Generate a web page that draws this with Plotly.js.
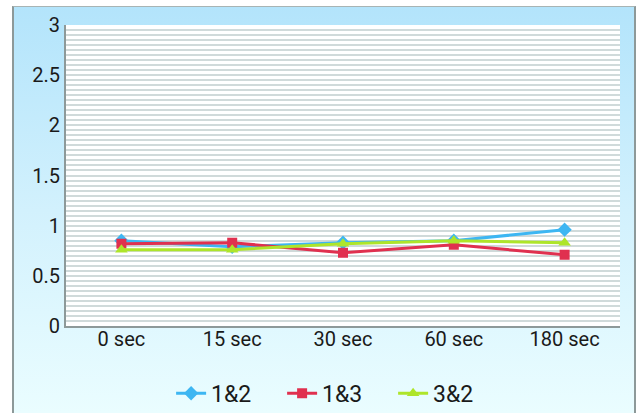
<!DOCTYPE html>
<html>
<head>
<meta charset="utf-8">
<script src="https://cdn.plot.ly/plotly-3.0.1.min.js"></script>
<style>
html,body{margin:0;padding:0;background:#ffffff;overflow:hidden;width:637px;height:414px;}
#frame{position:absolute;left:12px;top:6px;width:620px;height:406px;box-sizing:content-box;
  background:linear-gradient(to bottom,#b3e4fb 0%,#d2f1fd 50%,#eafdff 100%);
  border-left:2px solid #8d9999;border-top:1px solid #a8b4b4;border-right:2px solid #8d9999;}
#chart{position:absolute;left:0;top:0;width:637px;height:414px;}
</style>
</head>
<body>
<div id="frame"></div>
<div id="chart"></div>
<script>
const categories = ["0 sec", "15 sec", "30 sec", "60 sec", "180 sec"];
const s12 = [0.85, 0.79, 0.83, 0.85, 0.96];
const s13 = [0.82, 0.83, 0.73, 0.81, 0.71];
const s32 = [0.76, 0.76, 0.82, 0.85, 0.83];
const names = ["1&2", "1&3", "3&2"];
const colors = ["#3db6f2", "#e0304f", "#aee52a"];

const traces = [
  {x: categories, y: s12, name: names[0], type: "scatter", mode: "lines+markers",
   line: {color: colors[0], width: 3}, marker: {symbol: "diamond", size: 11, color: colors[0]}},
  {x: categories, y: s13, name: names[1], type: "scatter", mode: "lines+markers",
   line: {color: colors[1], width: 3}, marker: {symbol: "square", size: 10, color: colors[1]}},
  {x: categories, y: s32, name: names[2], type: "scatter", mode: "lines+markers",
   line: {color: colors[2], width: 3}, marker: {symbol: "triangle-up", size: 11, color: colors[2]}}
];

const layout = {
  width: 637, height: 414,
  margin: {l: 66, r: 17, t: 25, b: 88, autoexpand: false},
  paper_bgcolor: "rgba(0,0,0,0)",
  plot_bgcolor: "#ffffff",
  font: {family: "Roboto, sans-serif", size: 20, color: "#1a1a1a"},
  showlegend: true,
  legend: {orientation: "h", x: 0.53, xanchor: "center", xref: "container",
           y: 0.05, yanchor: "middle", yref: "container",
           entrywidth: 66, entrywidthmode: "pixels",
           bgcolor: "rgba(0,0,0,0)", font: {size: 23, color: "#1a1a1a"}, itemwidth: 30, tracegroupgap: 0},
  xaxis: {type: "category", range: [-0.5, 4.5], showgrid: false, zeroline: false,
          showline: true, linecolor: "#8d9999", linewidth: 2, ticks: "", tickfont: {size: 20},
          ticklabelstandoff: -6, automargin: false},
  yaxis: {range: [0, 3], dtick: 0.5, tick0: 0, showgrid: true, gridcolor: "#d0dada", gridwidth: 2,
          zeroline: false, showline: true, linecolor: "#8d9999", linewidth: 2,
          ticks: "", tickfont: {size: 20}, automargin: false,
          minor: {dtick: 0.05, showgrid: true, gridcolor: "#d0dada", gridwidth: 2}}
};

Plotly.newPlot("chart", traces, layout, {displayModeBar: false, staticPlot: true});
</script>
</body>
</html>
